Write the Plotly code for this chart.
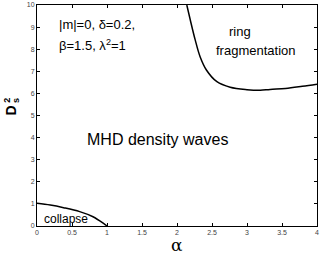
import plotly.graph_objects as go

# Boundary curves
collapse_x = [0.0, 0.19, 0.38, 0.61, 0.80, 0.95, 1.0]
collapse_y = [1.03, 0.95, 0.83, 0.65, 0.42, 0.12, 0.0]

ring_x = [2.14, 2.19, 2.26, 2.33, 2.42, 2.57, 2.76, 3.0, 3.19, 3.33, 3.55, 3.79, 4.0]
ring_y = [10.0, 9.32, 8.42, 7.66, 7.06, 6.53, 6.28, 6.17, 6.14, 6.18, 6.22, 6.32, 6.42]

x_ticks = [0, 0.5, 1, 1.5, 2, 2.5, 3, 3.5, 4]
x_tick_labels = ["0", "0.5", "1", "1.5", "2", "2.5", "3", "3.5", "4"]
y_ticks = list(range(0, 11))
y_tick_labels = [str(v) for v in y_ticks]

FONT = "Liberation Sans, Arial, sans-serif"

fig = go.Figure()
fig.add_trace(go.Scatter(x=collapse_x, y=collapse_y, mode="lines",
                         line=dict(color="black", width=1.5, shape="spline"),
                         showlegend=False, hoverinfo="skip"))
fig.add_trace(go.Scatter(x=ring_x, y=ring_y, mode="lines",
                         line=dict(color="black", width=1.5, shape="spline"),
                         showlegend=False, hoverinfo="skip"))

axis_common = dict(showgrid=False, zeroline=False, showline=True, automargin=False,
                   linecolor="black", linewidth=1, mirror="allticks",
                   ticks="inside", ticklen=3, tickcolor="black", tickwidth=1,
                   tickfont=dict(size=7, color="#444", family=FONT))

fig.update_xaxes(range=[0, 4], tickvals=x_ticks, ticktext=x_tick_labels, **axis_common)
fig.update_yaxes(range=[0, 10], tickvals=y_ticks, ticktext=y_tick_labels, **axis_common)

anns = [
    dict(x=0.28, y=9.1, text="|m|=0, δ=0.2,", size=13, xanchor="left"),
    dict(x=0.28, y=8.2, text="β=1.5, λ<sup>2</sup>=1", size=13, xanchor="left"),
    dict(x=2.9, y=8.78, text="ring", size=13, xanchor="center"),
    dict(x=3.13, y=7.96, text="fragmentation", size=13, xanchor="center"),
    dict(x=0.68, y=3.9, text="MHD density waves", size=16, xanchor="left"),
    dict(x=0.07, y=0.3, text="collapse", size=12, xanchor="left"),
]
for a in anns:
    fig.add_annotation(x=a["x"], y=a["y"], text=a["text"], showarrow=False,
                       xanchor=a["xanchor"], yanchor="middle",
                       font=dict(size=a["size"], family=FONT, color="black"))

# axis titles
fig.add_annotation(xref="paper", yref="paper", x=0.5, y=-0.088, text="α",
                   showarrow=False, xanchor="center", yanchor="middle",
                   font=dict(size=17, family="DejaVu Serif", color="black"))
fig.add_annotation(xref="paper", yref="paper", x=-0.091, y=0.52,
                   text="<b>D</b>", textangle=-90,
                   showarrow=False, xanchor="center", yanchor="middle",
                   font=dict(size=14, family=FONT, color="black"))
fig.add_annotation(xref="paper", yref="paper", x=-0.106, y=0.568,
                   text="<b>2</b>", textangle=-90,
                   showarrow=False, xanchor="center", yanchor="middle",
                   font=dict(size=9, family=FONT, color="black"))
fig.add_annotation(xref="paper", yref="paper", x=-0.073, y=0.568,
                   text="<b>s</b>", textangle=-90,
                   showarrow=False, xanchor="center", yanchor="middle",
                   font=dict(size=9, family=FONT, color="black"))

fig.update_layout(width=321, height=255,
                  margin=dict(l=37, r=4, t=5, b=29),
                  paper_bgcolor="white", plot_bgcolor="white")

fig.write_html("out.html", config={"displayModeBar": False},
               post_script="document.body.style.margin='0';document.body.style.overflow='hidden';")
